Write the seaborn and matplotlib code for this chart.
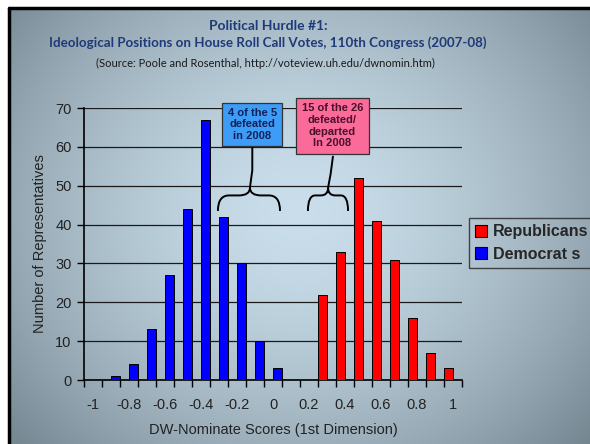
import numpy as np
import pandas as pd
import matplotlib
matplotlib.use("Agg")
import matplotlib.pyplot as plt
from matplotlib.path import Path
from matplotlib.patches import PathPatch
from matplotlib.lines import Line2D
import seaborn as sns

# DW-Nominate score bins (1st dimension) and counts per party
scores = ["-1", "-0.9", "-0.8", "-0.7", "-0.6", "-0.5", "-0.4", "-0.3", "-0.2", "-0.1", "0",
          "0.1", "0.2", "0.3", "0.4", "0.5", "0.6", "0.7", "0.8", "0.9", "1"]
republicans = [0, 0, 0, 0, 0, 0, 0, 0, 0, 0, 0, 0, 0, 22, 33, 52, 41, 31, 16, 7, 3]
democrats = [0, 1, 4, 13, 27, 44, 67, 42, 30, 10, 3, 0, 0, 0, 0, 0, 0, 0, 0, 0, 0]
tick_labels = ["-1", "-0.8", "-0.6", "-0.4", "-0.2", "0", "0.2", "0.4", "0.6", "0.8", "1"]
party_names = ["Republicans", "Democrat s"]

df = pd.DataFrame({
    "score": scores * 2,
    "count": republicans + democrats,
    "party": [party_names[0]] * len(scores) + [party_names[1]] * len(scores),
})

sns.set_theme(style="white")
plt.rcParams["font.family"] = ["Liberation Sans", "DejaVu Sans"]

fig = plt.figure(figsize=(5.9, 4.44), dpi=100)
fig.patch.set_facecolor("white")

# slide background: soft radial gradient, white margin top/left, black frame line
x0f, y1f = 9 / 590, 1 - 8 / 444
bg = fig.add_axes([x0f, 0, 1 - x0f, y1f], zorder=-10)
yy, xx = np.mgrid[0:1:300j, 0:1:400j]
r = np.sqrt(((xx - 0.5) / 0.68) ** 2 + ((yy - 0.47) / 0.8) ** 2)
r = np.clip(r, 0, 1)
c_in = np.array([0.79, 0.87, 0.92])
c_out = np.array([0.45, 0.52, 0.56])
w = r[..., None] ** 1.6
img = c_in[None, None, :] * (1 - w) + c_out[None, None, :] * w
bg.imshow(img, extent=[0, 1, 0, 1], aspect="auto", origin="upper")
bg.axis("off")
fig.add_artist(Line2D([x0f, 1], [y1f, y1f], color="black", lw=2.5))
fig.add_artist(Line2D([x0f, x0f], [0, y1f], color="black", lw=2.5))

ax = fig.add_axes([84 / 590, 1 - 380 / 444, 378 / 590, 272 / 444])
ax.patch.set_alpha(0)

sns.barplot(data=df, x="score", y="count", hue="party", order=scores,
            hue_order=party_names, palette=["#ff0000", "#0000ff"], saturation=1,
            width=1.0, edgecolor="black", linewidth=0.7, ax=ax, zorder=3)

ax.set_xlim(-0.5, len(scores) - 0.5)
ax.set_ylim(0, 70)
ax.set_yticks(range(0, 71, 10))
ax.yaxis.grid(True, color="#1a1a1a", lw=0.9, zorder=0)
ax.set_axisbelow(True)
ax.set_xticks(range(0, len(scores), 2), tick_labels)
ax.set_xticks(np.arange(-0.5, len(scores), 1), minor=True)
ax.tick_params(axis="x", which="major", length=0, pad=13, labelsize=10.5, labelcolor="#222222")
ax.tick_params(axis="x", which="minor", length=5, width=1, color="black", direction="out", bottom=True)
ax.tick_params(axis="y", length=5, width=1, color="black", direction="out", left=True,
               labelsize=10.5, labelcolor="#222222", pad=4)
for s in ["top", "right"]:
    ax.spines[s].set_visible(False)
for s in ["left", "bottom"]:
    ax.spines[s].set_color("black")
    ax.spines[s].set_linewidth(1.2)

ax.set_xlabel("DW-Nominate Scores (1st Dimension)", fontsize=10.5, color="#222222", labelpad=8)
ax.set_ylabel("Number of Representatives", fontsize=10.5, color="#222222", labelpad=6)

leg = ax.legend(loc="upper left", bbox_to_anchor=(469 / 590, 1 - 218 / 444),
                bbox_transform=fig.transFigure, frameon=True, fancybox=False,
                handlelength=0.75, handleheight=0.75, handletextpad=0.35,
                borderpad=0.4, labelspacing=0.45, borderaxespad=0,
                prop={"weight": "bold", "size": 11.5})
leg.get_frame().set_edgecolor("#222222")
leg.get_frame().set_facecolor("none")
leg.get_frame().set_linewidth(1.0)
for h in leg.legend_handles:
    h.set_edgecolor("black")
    h.set_linewidth(0.8)


def brace(ax, x0, x1, xm, y, h):
    # curly brace opening downward, cusp pointing up at xm
    k = 0.18 * (x1 - x0)
    verts = [(x0, y - h), (x0, y), (x0 + k, y),
             (xm - k, y), (xm, y), (xm, y + h * 0.5),
             (xm, y), (xm + k, y),
             (x1 - k, y), (x1, y), (x1, y - h)]
    codes = [Path.MOVETO, Path.CURVE3, Path.CURVE3,
             Path.LINETO, Path.CURVE3, Path.CURVE3,
             Path.CURVE3, Path.CURVE3,
             Path.LINETO, Path.CURVE3, Path.CURVE3]
    ax.add_patch(PathPatch(Path(verts, codes), fill=False, lw=1.4, color="black",
                           clip_on=False, zorder=5))


# annotation for Democrats
brace(ax, 6.94, 10.39, 8.72, 47.5, 4.0)
ax.plot([8.72, 8.85, 8.85], [49.5, 54, 59.8], color="black", lw=1.4, clip_on=False, zorder=5)
ax.text(8.85, 65.8, "4 of the 5\ndefeated\nin 2008", ha="center", va="center",
        fontsize=8, fontweight="bold", color="#13205a", linespacing=1.15, zorder=6,
        bbox=dict(boxstyle="square,pad=0.5", fc="#3d9cf5", ec="#333333", lw=0.9))

# annotation for Republicans
brace(ax, 11.94, 14.17, 13.06, 47.5, 4.0)
ax.plot([13.06, 13.2, 13.33], [49.5, 53, 57.5], color="black", lw=1.4, clip_on=False, zorder=5)
ax.text(13.3, 65.4, "15 of the 26\ndefeated/\ndeparted\nIn 2008", ha="center", va="center",
        fontsize=8, fontweight="bold", color="#4a0f2a", linespacing=1.2, zorder=6,
        bbox=dict(boxstyle="square,pad=0.5", fc="#fb6b9a", ec="#333333", lw=0.9))

# titles
title_font = ["Lato", "DejaVu Sans"]
tx = 268 / 590
fig.text(tx, 1 - 26 / 444, "Political Hurdle #1:", ha="center", va="center",
         fontsize=10, fontweight="bold", color="#1f3a78", family=title_font)
fig.text(tx, 1 - 43 / 444, "Ideological Positions on House Roll Call Votes, 110th Congress (2007-08)",
         ha="center", va="center", fontsize=9.6, fontweight="bold", color="#1f3a78", family=title_font)
fig.text(tx - 3 / 590, 1 - 63 / 444, "(Source: Poole and Rosenthal, http://voteview.uh.edu/dwnomin.htm)",
         ha="center", va="center", fontsize=8, color="#1a1a1a", family=title_font)

fig.savefig("out.png", dpi=100, facecolor="white")
